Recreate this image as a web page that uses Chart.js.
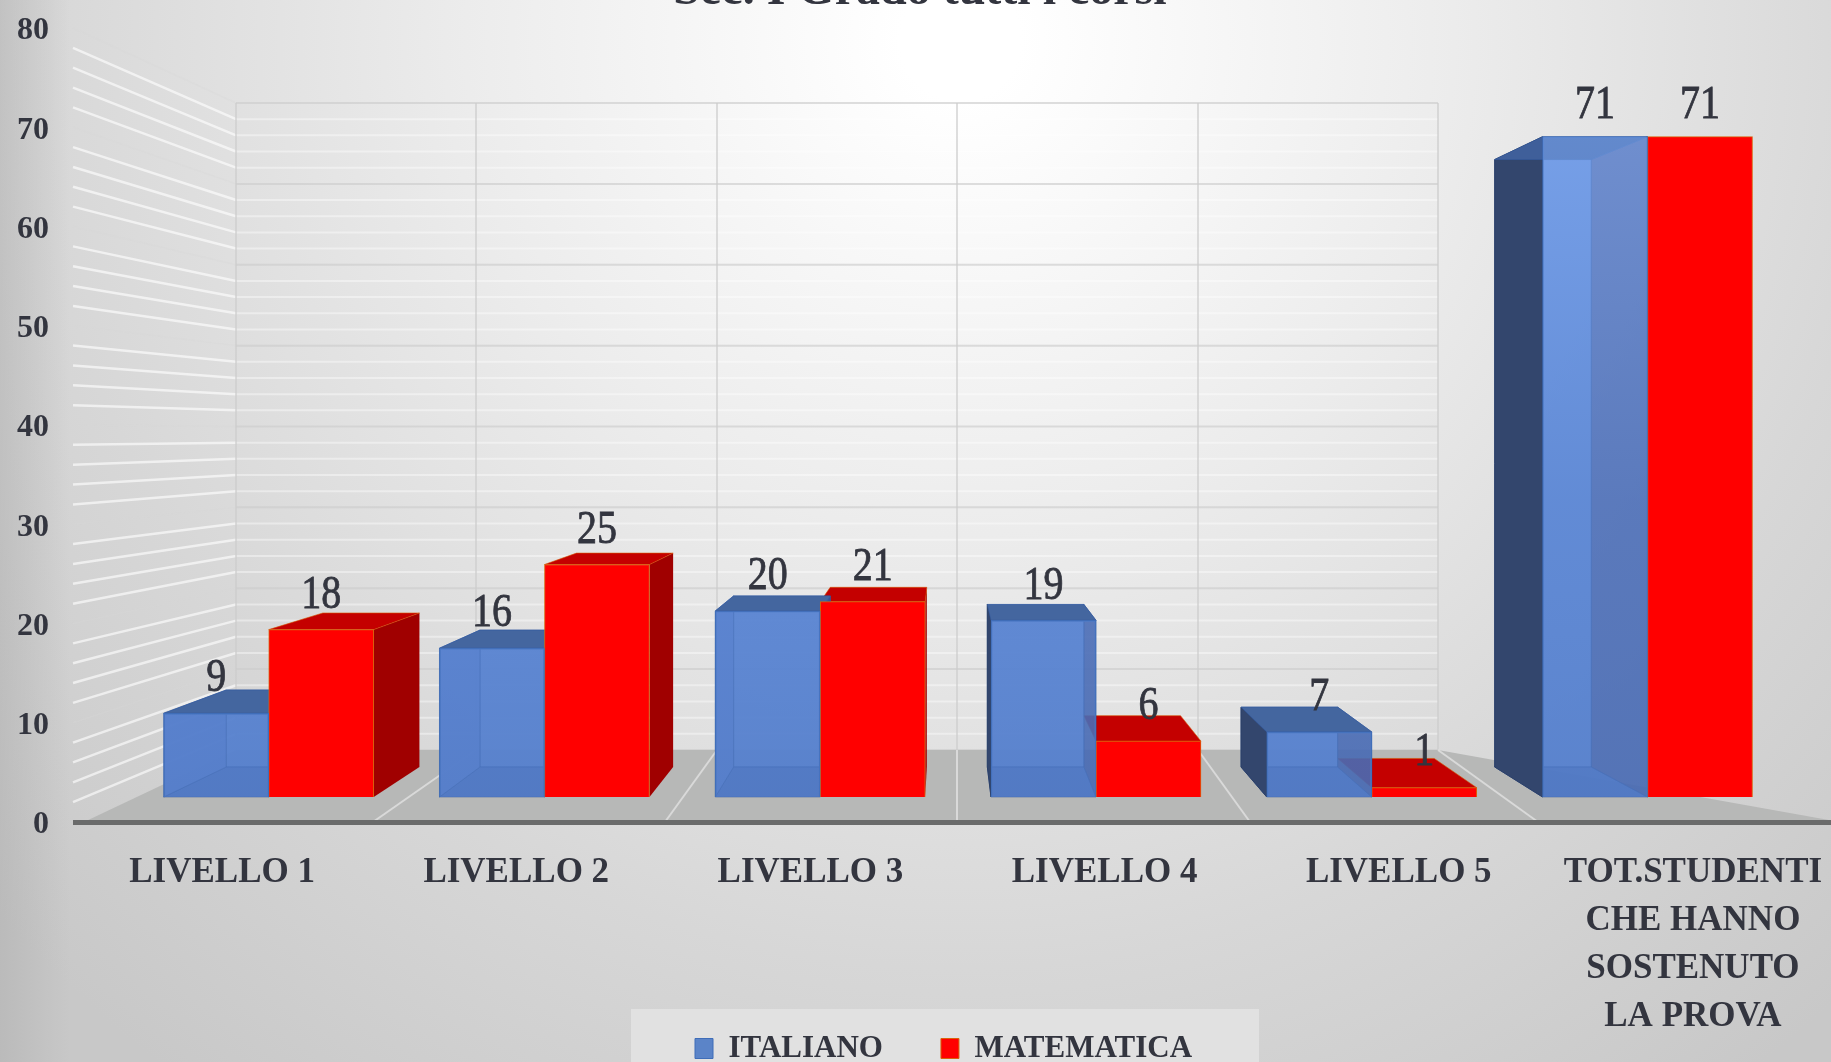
<!DOCTYPE html>
<html>
<head>
<meta charset="utf-8">
<style>
html,body{margin:0;padding:0;width:1831px;height:1062px;overflow:hidden;background:#d8d8d8}
canvas{display:block;filter:blur(0.7px)}
</style>
<script src="https://cdn.jsdelivr.net/npm/chart.js@4/dist/chart.umd.min.js"></script>
</head>
<body>
<canvas id="c" width="1840" height="1062"></canvas>
<script>
const categories = ['LIVELLO 1','LIVELLO 2','LIVELLO 3','LIVELLO 4','LIVELLO 5',['TOT.STUDENTI','CHE HANNO','SOSTENUTO','LA PROVA']];
const italiano = [9,16,20,19,7,71];
const matematica = [18,25,21,6,1,71];
const yTicks = [0,10,20,30,40,50,60,70,80];
const chartTitle = 'Sec. I Grado tutti i corsi';

const SERIF = '"Liberation Serif","DejaVu Serif",serif';
const INK = '#33353f';
const VP = {x:945, y:422, s:0.92};
const back = (x,y)=>[VP.x+VP.s*(x-VP.x), VP.y+VP.s*(y-VP.y)];

function poly(ctx, pts, fill, stroke){
  ctx.beginPath();
  pts.forEach((p,i)=> i?ctx.lineTo(p[0],p[1]):ctx.moveTo(p[0],p[1]));
  ctx.closePath();
  if(fill){ctx.fillStyle=fill;ctx.fill();}
  if(stroke){ctx.strokeStyle=stroke;ctx.lineWidth=1;ctx.stroke();}
}
function seg(ctx,a,b,c,w){
  ctx.beginPath();ctx.moveTo(a[0],a[1]);ctx.lineTo(b[0],b[1]);
  ctx.strokeStyle=c;ctx.lineWidth=w;ctx.stroke();
}

const backdrop = {
  id:'backdrop',
  afterLayout(chart){
    const lg = chart.legend;
    lg.left = 637; lg.right = 1300; lg.top = 975; lg.bottom = 1062;
    chart.scales.x.bottom = chart.height;
  },
  beforeDraw(chart){
    const ctx = chart.ctx, yv = chart.scales.y, yw = chart.scales.yw;
    ctx.save();
    const g = ctx.createRadialGradient(960,40,60,960,40,1300);
    g.addColorStop(0,'#ffffff');
    g.addColorStop(0.35,'#ececec');
    g.addColorStop(0.7,'#d7d7d7');
    g.addColorStop(1,'#c8c8c8');
    ctx.fillStyle=g; ctx.fillRect(0,0,chart.width,chart.height);
    const e = ctx.createLinearGradient(0,0,70,0);
    e.addColorStop(0,'rgba(170,170,170,.45)');
    e.addColorStop(1,'rgba(170,170,170,0)');
    ctx.fillStyle=e; ctx.fillRect(0,0,70,chart.height);

    // legend panel
    ctx.fillStyle='#e1e1e1'; ctx.fillRect(631,1009,628,53);

    const wallL=236, wallR=1438, sideL=73;
    const colsBack=[236,476,717,957,1198,1438];
    const colsFront=[84,373,665,957,1250,1538];
    const wallTop=yw.getPixelForValue(80), wallBot=yw.getPixelForValue(0);

    // wall horizontal lines
    for(let v=2;v<=78;v+=2){
      if(v%10===0) continue;
      const w=yw.getPixelForValue(v), l=yv.getPixelForValue(v);
      seg(ctx,[wallL,w],[wallR,w],'rgba(255,255,255,.4)',2);
      seg(ctx,[sideL,l],[wallL,w],'rgba(255,255,255,.62)',2.5);
    }
    for(const v of yTicks){
      const w=yw.getPixelForValue(v), l=yv.getPixelForValue(v);
      seg(ctx,[wallL,w],[wallR,w],'rgba(205,205,205,.65)',2);
      if(v>0) seg(ctx,[sideL,l],[wallL,w],'rgba(215,215,215,.3)',1.5);
    }
    colsBack.forEach(x=>seg(ctx,[x,wallTop],[x,wallBot],'rgba(205,205,205,.65)',2));

    // floor
    poly(ctx,[[84,822],[wallL,wallBot],[wallR,wallBot],[1840,822]],'#b7b8b7');
    colsBack.forEach((x,i)=>{ if(i>0) seg(ctx,[x,wallBot],[colsFront[i],822],'rgba(235,235,235,.65)',2); });
    ctx.restore();
  },
  beforeDatasetsDraw(chart){
    const ctx = chart.ctx;
    ctx.save();
    chart.getDatasetMeta(1).data.forEach(b=>{
      const l=b.x-b.width/2, r=b.x+b.width/2, t=b.y, f=b.base;
      const bl=back(l,t), brt=back(r,t), rb=back(r,f);
      if(r<VP.x) poly(ctx,[[r,t],brt,rb,[r,f]],'#a00000');
      if(t>VP.y) poly(ctx,[[l,t],bl,brt,[r,t]],'#c40000','rgba(214,84,0,.6)');
    });
    chart.getDatasetMeta(0).data.forEach(b=>{
      const l=b.x-b.width/2, r=b.x+b.width/2, t=b.y, f=b.base;
      const lt=back(l,t), rt=back(r,t), lf=back(l,f), rf=back(r,f);
      // inner back wall and floor of the translucent box
      poly(ctx,[lt,rt,rf,lf],'rgba(92,134,212,.9)','rgba(50,90,160,.5)');
      poly(ctx,[[l,f],lf,rf,[r,f]],'rgba(72,112,190,.9)','rgba(50,90,160,.5)');
      if(l>VP.x) poly(ctx,[[l,t],lt,lf,[l,f]],'#33466d','#2c4068');
      else poly(ctx,[[l,t],lt,lf,[l,f]],'rgba(88,128,205,.95)','rgba(50,90,160,.6)');
      poly(ctx,[[r,t],rt,rf,[r,f]],'rgba(52,72,138,.78)','rgba(50,90,160,.6)');
      poly(ctx,[[l,t],lt,rt,[r,t]],l>VP.x&&t<200?'#3f5f9a':'#44669f','rgba(50,90,160,.6)');
    });
    ctx.restore();
  },
  afterDatasetsDraw(chart){
    const ctx = chart.ctx, yb = chart.scales.yb;
    ctx.save();
    ctx.font='40px '+SERIF; ctx.fillStyle=INK; ctx.strokeStyle=INK; ctx.lineWidth=0.7;
    ctx.textAlign='center'; ctx.textBaseline='middle';
    chart.data.datasets.forEach((ds,i)=>{
      chart.getDatasetMeta(i).data.forEach((b,j)=>{
        const v=ds.data[j].y, txt=String(v), py=yb.getPixelForValue(v)-35+0.05*v;
        ctx.save();
        ctx.translate(b.x,py); ctx.scale(1,1.18);
        ctx.fillText(txt,0,0); ctx.strokeText(txt,0,0);
        ctx.restore();
      });
    });
    ctx.restore();
  }
};

const toPts = arr => arr.map((y,i)=>({x:i,y}));
const canvas = document.getElementById('c');
const blueFront = canvas.getContext('2d').createLinearGradient(0,137,0,797);
blueFront.addColorStop(0,'rgba(128,172,246,.55)');
blueFront.addColorStop(0.55,'rgba(92,136,214,.55)');
blueFront.addColorStop(1,'rgba(82,124,200,.6)');

new Chart(canvas,{
  type:'bar',
  plugins:[backdrop],
  data:{
    labels:categories,
    datasets:[
      {label:'ITALIANO',data:toPts(italiano),xAxisID:'xb',yAxisID:'yb',
       backgroundColor:blueFront,borderColor:'#3f6db8',borderWidth:1,barThickness:105},
      {label:'MATEMATICA',data:toPts(matematica),xAxisID:'xb',yAxisID:'yb',
       backgroundColor:'#ff0000',borderColor:'#d9620c',borderWidth:1,barThickness:105}
    ]
  },
  options:{
    responsive:false,
    animation:false,
    devicePixelRatio:1,
    layout:{padding:0},
    plugins:{
      tooltip:{enabled:false},
      title:{display:true,text:chartTitle,color:INK,
        font:{family:SERIF,size:48,weight:'bold',lineHeight:1.2},
        padding:{top:-36.8,bottom:7.2}},
      legend:{display:true,position:'bottom',align:'start',maxHeight:53,
        labels:{color:INK,font:{family:SERIF,size:31,weight:'bold'},boxWidth:18,boxHeight:20,padding:58,
          generateLabels(chart){
            const items=Chart.defaults.plugins.legend.labels.generateLabels(chart);
            items[0].fillStyle='#5b84c8';
            return items;
          }}}
    },
    scales:{
      x:{type:'category',position:'bottom',offset:true,
        grid:{display:false},
        border:{display:true,color:'#6a6b6b',width:5},
        ticks:{color:INK,font:{family:SERIF,size:35,weight:'bold',lineHeight:1.37},padding:19,maxRotation:0,minRotation:0,autoSkip:false},
        afterFit(s){s.height=187;s.paddingLeft=0;s.paddingRight=0;}
      },
      y:{type:'linear',position:'left',min:0,max:80,
        grid:{display:false},
        border:{display:false},
        ticks:{color:INK,stepSize:10,labelOffset:3,font:{family:SERIF,size:32,weight:'bold'},padding:18},
        afterFit(s){s.width=75;s.paddingTop=0;s.paddingBottom=0;}
      },
      xb:{type:'linear',axis:'x',display:false,bounds:'data',offset:false,min:-0.7025,max:5.698,grid:{display:false}},
      yb:{type:'linear',axis:'y',display:false,bounds:'data',min:-2.688,max:82.688,grid:{display:false}},
      yw:{type:'linear',axis:'y',display:false,bounds:'data',min:-8.903,max:89.274,grid:{display:false}}
    }
  }
});
</script>
</body>
</html>
